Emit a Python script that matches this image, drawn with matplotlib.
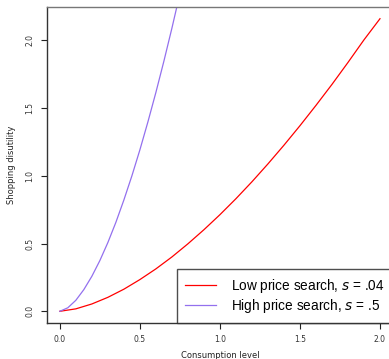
import matplotlib
matplotlib.use("Agg")
import matplotlib.pyplot as plt

# Data
c_low = [0.0, 0.1, 0.2, 0.3, 0.4, 0.5, 0.6, 0.7, 0.8, 0.9, 1.0,
         1.1, 1.2, 1.3, 1.4, 1.5, 1.6, 1.7, 1.8, 1.9, 2.0]
d_low = [0.0, 0.018, 0.054, 0.103, 0.163, 0.234, 0.313, 0.401, 0.498, 0.602, 0.713,
         0.831, 0.956, 1.088, 1.226, 1.370, 1.520, 1.675, 1.837, 2.004, 2.160]

c_high = [0.0, 0.05, 0.1, 0.15, 0.2, 0.25, 0.3, 0.35, 0.4, 0.45, 0.5,
          0.55, 0.6, 0.65, 0.7, 0.75]
d_high = [0.0, 0.026, 0.081, 0.160, 0.258, 0.374, 0.507, 0.656, 0.821, 0.999, 1.191,
          1.397, 1.615, 1.846, 2.089, 2.344]

x_ticks = [0.0, 0.5, 1.0, 1.5, 2.0]
y_ticks = [0.0, 0.5, 1.0, 1.5, 2.0]
tick_labels = ["0.0", "0.5", "1.0", "1.5", "2.0"]

labels = [r"Low price search, $s$ = .04", r"High price search, $s$ = .5"]
colors = ["#ff0000", "#9370ee"]

plt.rcParams['mathtext.fontset'] = 'dejavusans'

fig = plt.figure(figsize=(3.89, 3.59), dpi=100)
ax = fig.add_axes([47/389, 1 - 323/359, (392.8 - 47)/389, (323 - 7)/359])

ax.plot(c_low, d_low, color=colors[0], lw=0.9, label=labels[0])
ax.plot(c_high, d_high, color=colors[1], lw=0.9, label=labels[1])

ax.set_xlim(-0.08, 2.08)
ax.set_ylim(-0.0864, 2.2464)

ax.set_xticks(x_ticks)
ax.set_xticklabels(tick_labels, fontsize=5.5, color="#333333")
ax.set_yticks(y_ticks)
ax.set_yticklabels(tick_labels, fontsize=5.5, color="#333333", rotation=90, va="center")
ax.tick_params(direction="out", length=4, width=0.8, pad=5, color="#222222")

for name, sp in ax.spines.items():
    sp.set_color("#333333")
    sp.set_linewidth(1.0)
ax.spines['top'].set_color("#777777")

ax.set_xlabel("Consumption level", fontsize=6, color="#222222", labelpad=5)
ax.set_ylabel("Shopping disutility", fontsize=6, color="#222222", labelpad=7)

leg = ax.legend(loc="lower right", bbox_to_anchor=(1.0, 0.0),
                prop={"family": "Liberation Sans", "size": 9.8},
                frameon=True, fancybox=False, borderaxespad=0,
                handlelength=2.3, handletextpad=1.1, labelspacing=0.15,
                borderpad=0.6)
leg.get_frame().set_edgecolor("#222222")
leg.get_frame().set_linewidth(1.0)

fig.savefig("out.png", dpi=100)
